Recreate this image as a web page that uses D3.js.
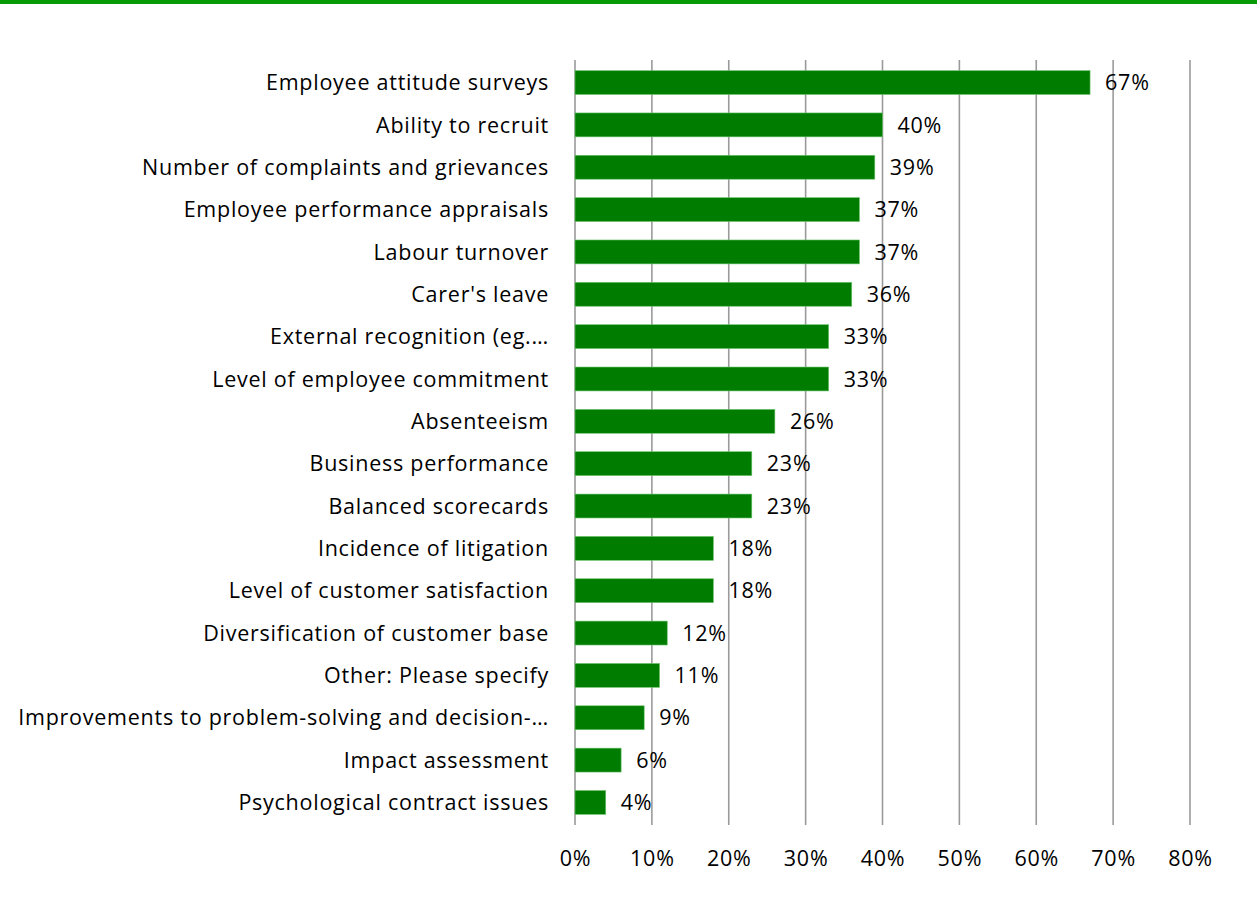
<!DOCTYPE html>
<html>
<head>
<meta charset="utf-8">
<script src="https://cdn.jsdelivr.net/npm/d3@7"></script>
<style>
  body { margin: 0; background: #fff; }
  svg { display: block; }
  text { font-family: "Open Sans", "Liberation Sans", sans-serif; fill: #000; }
</style>
</head>
<body>
<svg id="chart" width="1257" height="915"></svg>
<script>
// Measures, top to bottom
const categories = [
  "Employee attitude surveys",
  "Ability to recruit",
  "Number of complaints and grievances",
  "Employee performance appraisals",
  "Labour turnover",
  "Carer's leave",
  "External recognition (eg.…",
  "Level of employee commitment",
  "Absenteeism",
  "Business performance",
  "Balanced scorecards",
  "Incidence of litigation",
  "Level of customer satisfaction",
  "Diversification of customer base",
  "Other: Please specify",
  "Improvements to problem-solving and decision-…",
  "Impact assessment",
  "Psychological contract issues"
];
const values = [0.67, 0.40, 0.39, 0.37, 0.37, 0.36, 0.33, 0.33, 0.26, 0.23, 0.23, 0.18, 0.18, 0.12, 0.11, 0.09, 0.06, 0.04];
const tickValues = [0, 0.1, 0.2, 0.3, 0.4, 0.5, 0.6, 0.7, 0.8];

const svg = d3.select("#chart");
const W = 1257;
const plot = { left: 575, right: 1190, top: 60, bottom: 825 };
const fontSize = 21.5, spacing = 0.75;

// top accent band
svg.append("rect").attr("x", 0).attr("y", 0).attr("width", W).attr("height", 4).attr("fill", "#069b06");

const x = d3.scaleLinear().domain([0, 0.8]).range([plot.left, plot.right]);
const y = d3.scaleBand().domain(categories).range([plot.top, plot.bottom]).paddingInner(0.435).paddingOuter(0.25);

// vertical gridlines
svg.append("g").selectAll("line").data(tickValues).join("line")
  .attr("x1", d => x(d)).attr("x2", d => x(d))
  .attr("y1", plot.top).attr("y2", plot.bottom)
  .attr("stroke", "#9a9a9a").attr("stroke-width", 1.6);

// bars
svg.append("g").selectAll("rect").data(categories).join("rect")
  .attr("x", x(0))
  .attr("y", d => y(d))
  .attr("width", (d, i) => x(values[i]) - x(0))
  .attr("height", y.bandwidth())
  .attr("fill", "#007d00")
  .attr("stroke", "#6fc56f").attr("stroke-width", 0.6);

// value labels
const fmt = d3.format(".0%");
svg.append("g").selectAll("text").data(categories).join("text")
  .attr("x", (d, i) => x(values[i]) + 15)
  .attr("y", d => y(d) + y.bandwidth() / 2)
  .attr("dy", "0.36em")
  .attr("font-size", fontSize)
  .attr("letter-spacing", spacing)
  .text((d, i) => fmt(values[i]));

// category labels
svg.append("g").selectAll("text").data(categories).join("text")
  .attr("x", plot.left - 26)
  .attr("y", d => y(d) + y.bandwidth() / 2)
  .attr("dy", "0.36em")
  .attr("text-anchor", "end")
  .attr("font-size", fontSize)
  .attr("letter-spacing", spacing)
  .text(d => d);

// x-axis tick labels
const axis = d3.axisBottom(x).tickValues(tickValues).tickFormat(fmt).tickSize(0).tickPadding(0);
const ag = svg.append("g").attr("transform", `translate(0, ${plot.bottom + 26})`).call(axis);
ag.select(".domain").remove();
ag.selectAll("text")
  .attr("font-size", fontSize)
  .attr("letter-spacing", spacing)
  .attr("font-family", "\"Open Sans\", \"Liberation Sans\", sans-serif")
  .attr("fill", "#000");
</script>
</body>
</html>
